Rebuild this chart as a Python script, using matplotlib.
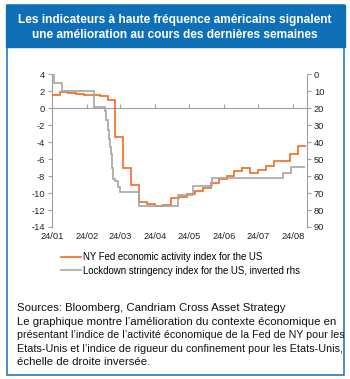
import matplotlib
matplotlib.use('Agg')
import matplotlib.pyplot as plt
import matplotlib.dates as mdates
from matplotlib.patches import Rectangle
from matplotlib.lines import Line2D
import pandas as pd

plt.rcParams['font.family'] = ['Liberation Sans', 'DejaVu Sans']
plt.rcParams['axes.unicode_minus'] = False

# NY Fed weekly economic index (left axis), one value per week from 24/01
wei_first_week = '2020-01-24'
wei_values = [1.5, 1.9, 1.8, 1.6, 1.5, 1.5, 1.4, 1.0, -3.4, -7.0, -9.0, -11.0,
              -11.3, -11.5, -11.4, -10.6, -10.5, -10.1, -9.8, -9.4, -8.8, -8.3,
              -8.0, -7.4, -7.0, -7.6, -7.3, -6.8, -6.2, -6.2, -5.4, -4.5]

# Lockdown stringency index (right axis, inverted): dates where the level changes
lockdown_dates = ['2020-01-24', '2020-01-26', '2020-02-02', '2020-03-01', '2020-03-11',
                  '2020-03-12', '2020-03-13', '2020-03-14', '2020-03-15', '2020-03-16',
                  '2020-03-17', '2020-03-18', '2020-03-20', '2020-03-22', '2020-03-24',
                  '2020-04-10', '2020-05-14', '2020-05-27', '2020-06-13', '2020-08-15',
                  '2020-08-22']
lockdown_values = [0, 5, 10, 19.5, 22, 27, 33, 38, 43, 47, 55, 62, 63, 66.5, 69.5,
                   77.5, 71.2, 65.7, 61, 58, 54.5]
lockdown_last_day = '2020-09-03'

month_ticks = ['2020-01-24', '2020-02-24', '2020-03-24', '2020-04-24',
               '2020-05-24', '2020-06-24', '2020-07-24', '2020-08-24']

title_lines = ['Les indicateurs à haute fréquence américains signalent',
               'une amélioration au cours des dernières semaines']
note_lines = ['Sources: Bloomberg, Candriam Cross Asset Strategy',
              'Le graphique montre l’amélioration du contexte économique en',
              'présentant l’indice de l’activité économique de la Fed de NY pour les',
              'Etats-Unis et l’indice de rigueur du confinement pour les Etats-Unis,',
              'échelle de droite inversée.']

blue = '#0f70b7'
orange = '#f26b21'
grey = '#a6a6a6'
axis_grey = '#a0a0a0'
W, H = 350, 379

fig = plt.figure(figsize=(W / 100, H / 100), dpi=100)

# frame and title banner
fig.patches.append(Rectangle((6.5 / W, 1 - 374.5 / H), 337.5 / W, 369.5 / H,
                             transform=fig.transFigure, fill=False,
                             edgecolor=blue, linewidth=1.1))
fig.patches.append(Rectangle((6 / W, 1 - 47 / H), 338.5 / W, 42 / H,
                             transform=fig.transFigure, facecolor=blue,
                             edgecolor=blue))
for i, line in enumerate(title_lines):
    fig.text(0.5, 1 - (20 + 15 * i) / H, line, ha='center', va='center',
             color='white', fontsize=8.6, fontweight='bold')

ax = fig.add_axes([52 / W, 1 - 227 / H, 255 / W, 153 / H])
ax2 = ax.twinx()

wei_edges = pd.date_range(wei_first_week, periods=len(wei_values) + 1, freq='7D')
ax.stairs(wei_values, mdates.date2num(wei_edges), baseline=None,
          color=orange, linewidth=1.2, zorder=3)

lock_edges = list(pd.to_datetime(lockdown_dates)) + [pd.Timestamp(lockdown_last_day)]
ax2.stairs(lockdown_values, mdates.date2num(lock_edges), baseline=None,
           color=grey, linewidth=1.2)

x0 = mdates.date2num(pd.Timestamp('2020-01-24'))
x1 = mdates.date2num(pd.Timestamp('2020-09-05'))
ax.set_xlim(x0, x1)
ax.set_ylim(-14, 4)
ax.set_yticks(range(-14, 5, 2))
ax2.set_ylim(90, 0)
ax2.set_yticks(range(0, 91, 10))

ticks = mdates.date2num(pd.to_datetime(month_ticks))
ax.set_xticks(ticks)
ax.xaxis.set_major_formatter(mdates.DateFormatter('%d/%m'))

for a in (ax, ax2):
    for s in ('top', 'bottom'):
        a.spines[s].set_visible(False)
    a.spines['left'].set_visible(a is ax)
    a.spines['right'].set_visible(a is ax2)
    a.spines['left'].set_color(axis_grey)
    a.spines['right'].set_color(axis_grey)
    a.tick_params(axis='y', length=3, width=0.8, color=axis_grey, labelsize=6.7,
                  pad=2, labelcolor='#222222')
ax.tick_params(axis='x', length=0, labelsize=6.7, pad=3.5, labelcolor='#222222')

# zero line with month ticks pointing up
zero_axis = ax.secondary_xaxis(14 / 18)
zero_axis.set_xticks(ticks)
zero_axis.spines['top'].set_color(axis_grey)
zero_axis.spines['top'].set_linewidth(0.8)
zero_axis.tick_params(axis='x', direction='out', length=3, width=0.8,
                      color=axis_grey, labeltop=False, labelbottom=False)

handles = [Line2D([], [], color=orange, linewidth=1.2),
           Line2D([], [], color=grey, linewidth=1.2)]
fig.legend(handles, ['NY Fed economic activity index for the US',
                     'Lockdown stringency index for the US, inverted rhs'],
           loc='upper left', bbox_to_anchor=(61 / W, 1 - 252 / H), frameon=False,
           fontsize=6.9, handlelength=2.1, handletextpad=0.15, labelspacing=0.4,
           borderpad=0, borderaxespad=0)

# note below the chart; squeeze lines that would run past the frame
renderer = fig.canvas.get_renderer()
max_width = 340 - 17
for i, line in enumerate(note_lines):
    t = fig.text(17 / W, 1 - (308 + 13.6 * i) / H, line, ha='left', va='center',
                 fontsize=8.2, color='#111111')
    width = t.get_window_extent(renderer).width
    if width > max_width:
        t.set_fontsize(8.2 * max_width / width)

fig.savefig('out.png', dpi=100)
